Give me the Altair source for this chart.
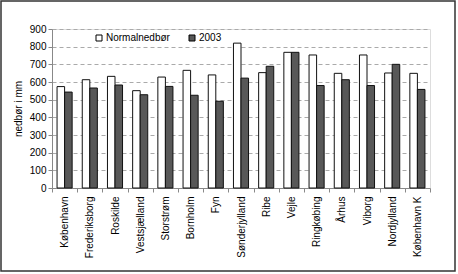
import altair as alt
import pandas as pd

regions = ["København", "Frederiksborg", "Roskilde", "Vestsjælland", "Storstrøm",
           "Bornholm", "Fyn", "Sønderjylland", "Ribe", "Vejle", "Ringkøbing",
           "Århus", "Viborg", "Nordjylland", "København K"]
normal = [574, 613, 632, 551, 628, 666, 640, 820, 653, 768, 753, 649, 753, 651, 649]
y2003 = [543, 566, 583, 528, 575, 525, 491, 622, 689, 768, 580, 613, 580, 700, 558]
series = ["Normalnedbør", "2003"]
yticks = [0, 100, 200, 300, 400, 500, 600, 700, 800, 900]

rows = []
for r, n, v in zip(regions, normal, y2003):
    rows.append({"region": r, "series": series[0], "value": n})
    rows.append({"region": r, "series": series[1], "value": v})
df = pd.DataFrame(rows)

W, H = 378, 159
FONT = "Liberation Sans"

bars = alt.Chart(df).mark_bar(stroke="#111", strokeWidth=1).encode(
    x=alt.X("region:N", sort=regions,
            scale=alt.Scale(paddingInner=0, paddingOuter=0),
            axis=alt.Axis(title=None, labelAngle=-90, tickBand="extent",
                          labelAlign="right", labelBaseline="middle",
                          labelPadding=4, tickSize=4, labelFontSize=10,
                          labelFont=FONT, labelColor="#000",
                          domainColor="#888", tickColor="#888", grid=False)),
    xOffset=alt.XOffset("series:N", sort=series,
                        scale=alt.Scale(paddingOuter=0.67, paddingInner=0)),
    y=alt.Y("value:Q", scale=alt.Scale(domain=[0, 900], nice=False),
            axis=alt.Axis(title="nedbør i mm", values=yticks, tickSize=4,
                          labelFontSize=10, labelFont=FONT, labelColor="#000",
                          titleFont=FONT, titleFontSize=10, titleFontWeight="normal",
                          titleColor="#000", titlePadding=6,
                          domainColor="#888", tickColor="#888",
                          grid=True, gridColor="#aaa", gridDash=[4, 3])),
    color=alt.Color("series:N",
                    scale=alt.Scale(domain=series, range=["#ffffff", "#585858"]),
                    legend=alt.Legend(title=None, orient="none", legendX=42, legendY=4,
                                      direction="horizontal", symbolType="square",
                                      symbolSize=36, symbolStrokeColor="#000",
                                      symbolStrokeWidth=1, labelFontSize=10,
                                      labelFont=FONT, labelColor="#000",
                                      columnPadding=17, labelOffset=2)),
)

frame = alt.Chart(pd.DataFrame({"a": [0]})).mark_rect(
    fill=None, stroke="#333", strokeWidth=1.5
).encode(
    x=alt.value(-51), x2=alt.value(W + 25),
    y=alt.value(-28), y2=alt.value(H + 83),
)

chart = alt.layer(bars, frame).properties(
    width=W, height=H,
    autosize=alt.AutoSizeParams(type="none"),
    padding={"left": 52, "top": 29, "right": 28, "bottom": 86},
).configure_view(stroke=None).configure(background="white")

chart.save("out.html", embed_options={"renderer": "svg", "actions": False})
